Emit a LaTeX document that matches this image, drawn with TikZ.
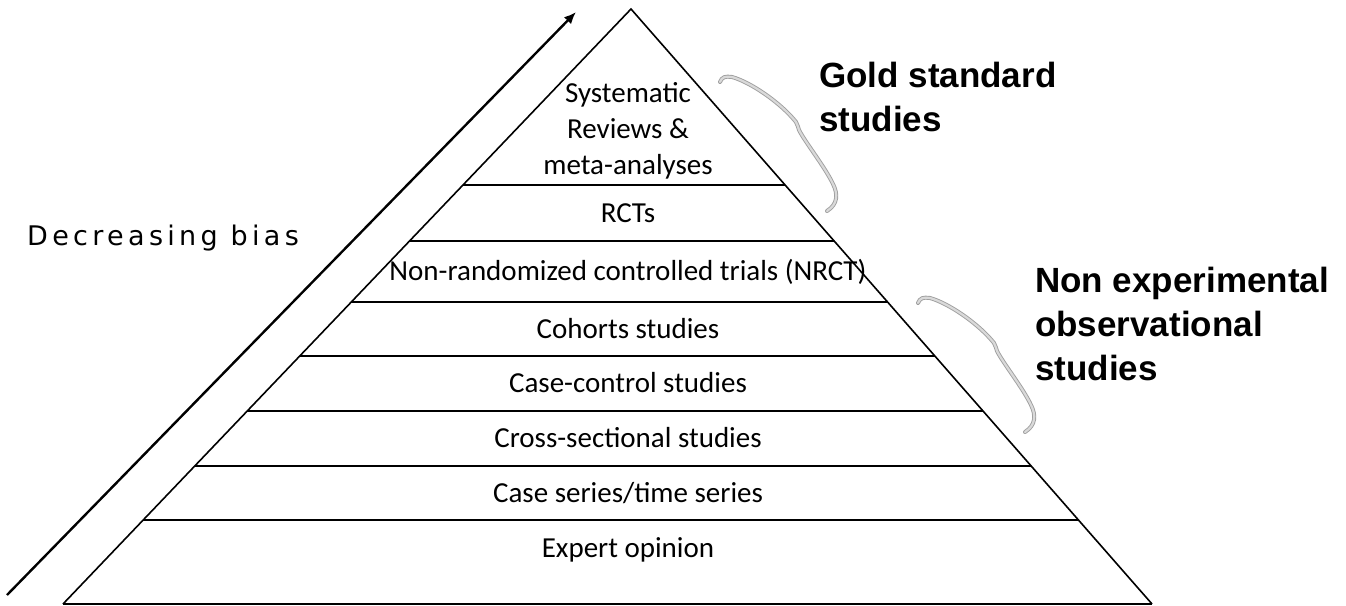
\documentclass[tikz,border=0pt]{standalone}
\usepackage{fontspec}
\setmainfont{Carlito}
\newfontfamily\boldlbl{Liberation Sans}
\newfontfamily\biasfont[LetterSpace=16]{DejaVu Sans}
\usetikzlibrary{calc,arrows.meta}
\tikzset{
  side/.style={line width=1.6pt},
  tier/.style={line width=2pt},
  lbl/.style={font=\fontsize{29}{36}\selectfont, inner sep=0pt},
  big/.style={font=\boldlbl\bfseries\fontsize{35}{44}\selectfont, align=left, inner sep=0pt},
  bracestyle/.style={draw=gray!75, double=gray!30, double distance=2.2pt, line width=0.9pt, line cap=round},
  curlybrace/.pic={
    \draw[bracestyle] (0,0) .. controls (2,-5) and (5,-6) .. (12,-5)
      .. controls (30,0) and (60,20) .. (76,40)
      .. controls (78,43) and (78,46) .. (79,48)
      .. controls (85,60) and (105,85) .. (113,102)
      .. controls (118,112) and (118,122) .. (107,129);
  }
}
\begin{document}
\begin{tikzpicture}[x=1pt,y=-1pt]
\useasboundingbox (0,0) rectangle (1346,605);
\coordinate (A) at (631,9);
\coordinate (BL) at (63,604);
\coordinate (BR) at (1152,604);
\draw[side, line join=miter] (BL) -- (A) -- (BR);
\draw[tier] (BL) -- (BR);
\foreach \i/\t in {1/0.2958,2/0.3899,3/0.4924,4/0.5832,5/0.6756,6/0.7681,7/0.8588} {
  \coordinate (L\i) at ($(A)!\t!(BL)$);
  \coordinate (R\i) at ($(A)!\t!(BR)$);
  \draw[tier] (L\i) -- (R\i);
}
% arrow
\coordinate (arrS) at (7,595);
\coordinate (arrE) at (576,12);
\draw[line width=2.4pt, -{Latex[length=12pt,width=10pt]}] (arrS) -- (arrE);
% labels in the pyramid
\node[lbl, align=center] (sys) at (628,131) {Systematic\\Reviews \&\\meta-analyses};
\node[lbl, anchor=base] (rct) at (628,222) {RCTs};
\node[lbl, anchor=base] (nrct) at (628,280) {Non-randomized controlled trials (NRCT)};
\node[lbl, anchor=base] (coh) at (628,338) {Cohorts studies};
\node[lbl, anchor=base] (cc) at (628,392) {Case-control studies};
\node[lbl, anchor=base] (cs) at (628,447) {Cross-sectional studies};
\node[lbl, anchor=base] (ser) at (628,502) {Case series/time series};
\node[lbl, anchor=base] (exp) at (628,557) {Expert opinion};
% side labels
\node[font=\biasfont\fontsize{27}{32}\selectfont, inner sep=0pt, anchor=base west] (bias) at (27,245) {Decreasing bias};
\node[big, anchor=north west] (gold) at (819,62) {Gold standard\\studies};
\node[big, anchor=north west] (nonexp) at (1035,267) {Non experimental\\observational\\studies};
% braces
\pic at (720,82) {curlybrace};
\pic at (918,303) {curlybrace};
\end{tikzpicture}
\end{document}
